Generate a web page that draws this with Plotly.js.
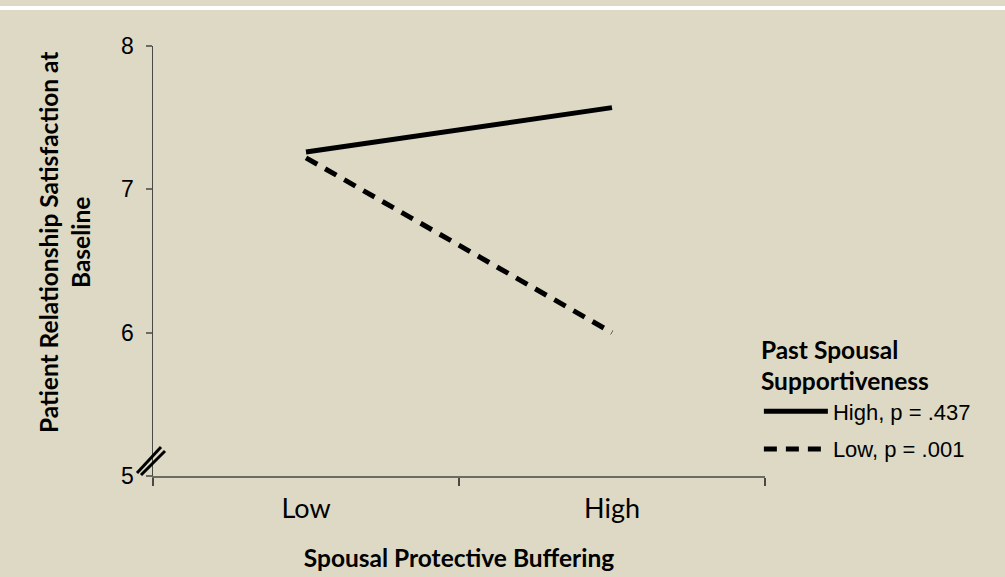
<!DOCTYPE html>
<html>
<head>
<meta charset="utf-8">
<script src="https://cdn.plot.ly/plotly-3.0.1.min.js"></script>
<style>
html,body{margin:0;padding:0;background:#DDD9C4;}
#wrap{position:relative;width:1005px;height:577px;}
#band{position:absolute;left:0;top:6px;width:1005px;height:4px;background:#ffffff;z-index:5;}
#chart{position:absolute;left:0;top:0;width:1005px;height:577px;}
</style>
</head>
<body>
<div id="wrap"><div id="chart"></div><div id="band"></div></div>
<script>
const categories = ['Low', 'High'];
const seriesNames = ['High, p = .437', 'Low, p = .001'];
const highSupport = [7.26, 7.57];
const lowSupport = [7.22, 6.0];
const yTicks = [5, 6, 7, 8];

const bg = '#DDD9C4';
const titleFont = 'Lato, "Open Sans", sans-serif';
const numFont = '"Liberation Sans", Arial, sans-serif';

const traces = [
  {x: categories, y: highSupport, name: seriesNames[0], type: 'scatter', mode: 'lines',
   legendgroup: 'a', line: {color: '#000000', width: 5}},
  {x: categories, y: lowSupport, name: seriesNames[1], type: 'scatter', mode: 'lines',
   legendgroup: 'b', line: {color: '#000000', width: 5, dash: '13px,9px'}}
];

const layout = {
  width: 1005, height: 577,
  paper_bgcolor: bg, plot_bgcolor: bg,
  margin: {l: 153, r: 240, t: 46, b: 101, pad: 0},
  showlegend: true,
  xaxis: {
    type: 'category', range: [-0.5, 1.5], tickson: 'boundaries',
    showline: true, linecolor: '#6b6b63', linewidth: 2,
    ticks: 'outside', ticklen: 8, tickcolor: '#4a4a44', tickwidth: 2,
    ticklabelstandoff: 8,
    showgrid: false, zeroline: false,
    tickfont: {family: titleFont, size: 27, color: '#000'},
    title: {text: '<b>Spousal Protective Buffering</b>', font: {family: titleFont, size: 24.5, color: '#000'}, standoff: 26}
  },
  yaxis: {
    range: [5, 8], tickvals: yTicks, ticktext: yTicks.map(String),
    showline: true, linecolor: '#4a4a44', linewidth: 1.5,
    ticks: 'outside', ticklen: 6, tickcolor: '#6b6b63', tickwidth: 2,
    ticklabelstandoff: 7,
    showgrid: false, zeroline: false,
    tickfont: {family: numFont, size: 23, color: '#000'}
  },
  annotations: [
    {text: '<b>Patient Relationship Satisfaction at<br>Baseline</b>', textangle: -90,
     xref: 'paper', yref: 'paper', x: 0, y: 0.5, xanchor: 'center', yanchor: 'middle',
     xshift: -89, yshift: 18, showarrow: false,
     font: {family: titleFont, size: 24.5, color: '#000'}}
  ],
  legend: {
    x: 0.99, xanchor: 'left', y: 0.347, yanchor: 'top',
    bgcolor: 'rgba(0,0,0,0)', borderwidth: 0,
    itemwidth: 64, traceorder: 'grouped', tracegroupgap: 6,
    font: {family: numFont, size: 22, color: '#000'},
    title: {text: '<b>Past Spousal<br>Supportiveness</b>', side: 'top', font: {family: titleFont, size: 24.5, color: '#000'}}
  },
  shapes: [
    {type: 'line', xref: 'paper', yref: 'y', xsizemode: 'pixel', ysizemode: 'pixel',
     xanchor: 0, yanchor: 5, x0: -16, y0: 3, x1: 8, y1: 29, line: {color: '#000', width: 3}},
    {type: 'line', xref: 'paper', yref: 'y', xsizemode: 'pixel', ysizemode: 'pixel',
     xanchor: 0, yanchor: 5, x0: -12, y0: 1, x1: 12, y1: 25, line: {color: '#000', width: 3}}
  ]
};

Plotly.newPlot('chart', traces, layout, {displayModeBar: false, staticPlot: true});
</script>
</body>
</html>
